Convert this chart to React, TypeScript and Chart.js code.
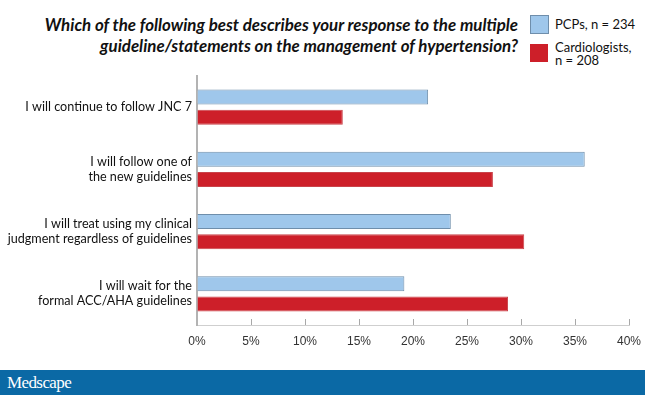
import React, { useEffect, useRef } from "react";
import { Chart, registerables } from "chart.js";

Chart.register(...registerables);

const categories: string[][] = [
  ["I will continue to follow JNC 7"],
  ["I will follow one of", "the new guidelines"],
  ["I will treat using my clinical", "judgment regardless of guidelines"],
  ["I will wait for the", "formal ACC/AHA guidelines"],
];
const pcpValues = [21.4, 35.9, 23.5, 19.2];
const cardioValues = [13.5, 27.4, 30.3, 28.8];
const xTicks = [0, 5, 10, 15, 20, 25, 30, 35, 40];
const titleLines = [
  "Which of the following best describes your response to the multiple",
  "guideline/statements on the management of hypertension?",
];
const legendPCP = ["PCPs, n = 234"];
const legendCardio = ["Cardiologists,", "n = 208"];

const BLUE = "#9fc7eb";
const BLUE_BORDER = "#6f8eab";
const RED = "#cd1f29";
const RED_BORDER = "#c9434a";

const innerTicks = {
  id: "innerTicks",
  afterDraw(chart: any) {
    const x = chart.scales.x;
    const ctx = chart.ctx;
    const bottom = chart.chartArea.bottom;
    ctx.save();
    ctx.strokeStyle = "#a8a8a8";
    ctx.lineWidth = 1;
    xTicks.forEach((v) => {
      if (v === 0) return;
      const px = Math.round(x.getPixelForValue(v)) + 0.5;
      ctx.beginPath();
      ctx.moveTo(px, bottom - 6);
      ctx.lineTo(px, bottom);
      ctx.stroke();
    });
    ctx.restore();
  },
};

export default function App() {
  const ref = useRef<HTMLCanvasElement>(null);
  useEffect(() => {
    if (!ref.current) return;
    const chart = new Chart(ref.current, {
      type: "bar",
      data: {
        labels: categories,
        datasets: [
          {
            label: "PCPs, n = 234",
            data: pcpValues,
            backgroundColor: BLUE,
            borderColor: BLUE_BORDER,
            borderWidth: 1,
            categoryPercentage: 0.643,
            barPercentage: 0.75,
          },
          {
            label: "Cardiologists, n = 208",
            data: cardioValues,
            backgroundColor: RED,
            borderColor: RED_BORDER,
            borderWidth: 1,
            categoryPercentage: 0.643,
            barPercentage: 0.75,
          },
        ],
      },
      options: {
        indexAxis: "y",
        responsive: false,
        animation: false,
        layout: { padding: { top: 76, right: 16, left: 0, bottom: 0 } },
        plugins: {
          legend: { display: false },
          title: { display: false },
          tooltip: { enabled: false },
        },
        scales: {
          x: {
            min: 0,
            max: 40,
            afterFit: (s: any) => {
              s.height = 45;
              s.paddingRight = 0;
              s.paddingLeft = 0;
            },
            afterBuildTicks: (s: any) => {
              s.ticks = xTicks.map((v) => ({ value: v }));
            },
            ticks: {
              padding: 9,
              color: "#333",
              font: { family: "'Liberation Sans', Arial, sans-serif", size: 12 },
              callback: (v: any) => v + "%",
              maxRotation: 0,
            },
            grid: { display: true, drawOnChartArea: false, drawTicks: false },
            border: { display: true, color: "#cfcfcf", width: 1 },
          },
          y: {
            afterFit: (s: any) => {
              s.width = 197;
              s.paddingTop = 0;
              s.paddingBottom = 0;
            },
            ticks: {
              padding: 5,
              color: "#111",
              font: { family: "Lato, 'Open Sans', sans-serif", size: 12.6 },
            },
            grid: { display: true, drawOnChartArea: false, drawTicks: false },
            border: { display: true, color: "#b3b3b3", width: 2 },
          },
        },
      },
      plugins: [innerTicks],
    });
    return () => chart.destroy();
  }, []);

  return (
    <div
      style={{
        position: "fixed",
        left: 0,
        top: 0,
        width: 645,
        height: 395,
        background: "#fff",
        overflow: "hidden",
      }}
    >
      <div
        style={{
          position: "absolute",
          right: 127,
          top: 14,
          textAlign: "right",
          fontFamily: "Lato, 'Open Sans', sans-serif",
          fontWeight: 700,
          fontStyle: "italic",
          fontSize: 16.9,
          lineHeight: "21px",
          color: "#111",
          whiteSpace: "nowrap",
        }}
      >
        {titleLines.map((l, i) => (
          <div key={i}>{l}</div>
        ))}
      </div>
      <div style={{ position: "absolute", left: 530, top: 15, width: 17, height: 17, background: BLUE, border: "1px solid " + BLUE_BORDER }} />
      <div style={{ position: "absolute", left: 530, top: 44, width: 18, height: 18, background: RED }} />
      <div
        style={{
          position: "absolute",
          left: 555,
          top: 18,
          fontFamily: "Lato, 'Open Sans', sans-serif",
          fontSize: 13,
          lineHeight: "13px",
          color: "#111",
          whiteSpace: "nowrap",
        }}
      >
        {legendPCP.map((l, i) => (
          <div key={i}>{l}</div>
        ))}
      </div>
      <div
        style={{
          position: "absolute",
          left: 555,
          top: 41,
          fontFamily: "Lato, 'Open Sans', sans-serif",
          fontSize: 13,
          lineHeight: "13px",
          color: "#111",
          whiteSpace: "nowrap",
        }}
      >
        {legendCardio.map((l, i) => (
          <div key={i}>{l}</div>
        ))}
      </div>
      <canvas ref={ref} width={645} height={370} style={{ position: "absolute", left: 0, top: 0 }} />
      <div
        style={{
          position: "absolute",
          left: 0,
          top: 370,
          width: 645,
          height: 25,
          background: "#0b69a5",
        }}
      >
        <div
          style={{
            position: "absolute",
            left: 7,
            top: 3,
            color: "#fff",
            fontFamily: "'Liberation Serif', 'DejaVu Serif', serif",
            fontSize: 17,
            letterSpacing: -0.6,
          }}
        >
          Medscape
        </div>
      </div>
    </div>
  );
}
